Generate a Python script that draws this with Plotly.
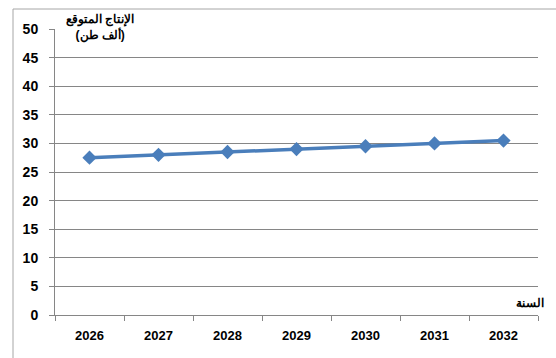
import plotly.graph_objects as go

years = ["2026", "2027", "2028", "2029", "2030", "2031", "2032"]
production = [27.5, 28.0, 28.5, 29.0, 29.5, 30.0, 30.5]
y_ticks = [0, 5, 10, 15, 20, 25, 30, 35, 40, 45, 50]

W, H = 556, 358
L, R, T, B = 55, 18, 29, 43
pw, ph = W - L - R, H - T - B

def px_x(p):
    return (p - L) / pw

def px_y(p):
    return (H - B - p) / ph

fig = go.Figure()
fig.add_trace(go.Scatter(
    x=years, y=production, mode="lines+markers",
    line=dict(color="#4a7ebb", width=3.5),
    marker=dict(symbol="diamond", size=11, color="#4a7ebb"),
    showlegend=False,
))

font_family = "Liberation Sans, Arial, sans-serif"
fig.update_layout(
    width=W, height=H,
    margin=dict(l=L, r=R, t=T, b=B),
    paper_bgcolor="white", plot_bgcolor="white",
    font=dict(family=font_family, color="#000000"),
    xaxis=dict(
        type="category", tickson="boundaries", showgrid=False,
        showline=True, linecolor="#868686", linewidth=1,
        ticks="outside", ticklen=5, tickcolor="#868686",
        tickfont=dict(size=13, family=font_family, weight="bold"),
        range=[-0.5, 6.5], ticklabelstandoff=8,
    ),
    yaxis=dict(
        range=[0, 50], tickvals=y_ticks, showgrid=True, gridcolor="#868686", gridwidth=1,
        showline=True, linecolor="#868686", linewidth=1,
        ticks="outside", ticklen=5, tickcolor="#868686",
        tickfont=dict(size=14, family=font_family, weight="bold"),
        zeroline=False, ticklabelstandoff=8,
    ),
    shapes=[
        dict(type="line", xref="paper", yref="paper",
             x0=px_x(13), x1=px_x(13), y0=px_y(9), y1=px_y(H + 5),
             line=dict(color="#a6a6a6", width=1)),
        dict(type="line", xref="paper", yref="paper",
             x0=px_x(13), x1=px_x(W + 5), y0=px_y(9), y1=px_y(9),
             line=dict(color="#a6a6a6", width=1)),
    ],
    annotations=[
        dict(text="<b>الإنتاج المتوقع<br>(ألف طن)</b>", xref="paper", yref="paper",
             x=px_x(100), y=px_y(10), xanchor="center", yanchor="top",
             showarrow=False, font=dict(size=12, family=font_family), align="center"),
        dict(text="<b>السنة</b>", xref="paper", yref="paper",
             x=px_x(530), y=px_y(312), xanchor="center", yanchor="bottom",
             showarrow=False, font=dict(size=12, family=font_family)),
    ],
)

fig.write_html("out.html")
